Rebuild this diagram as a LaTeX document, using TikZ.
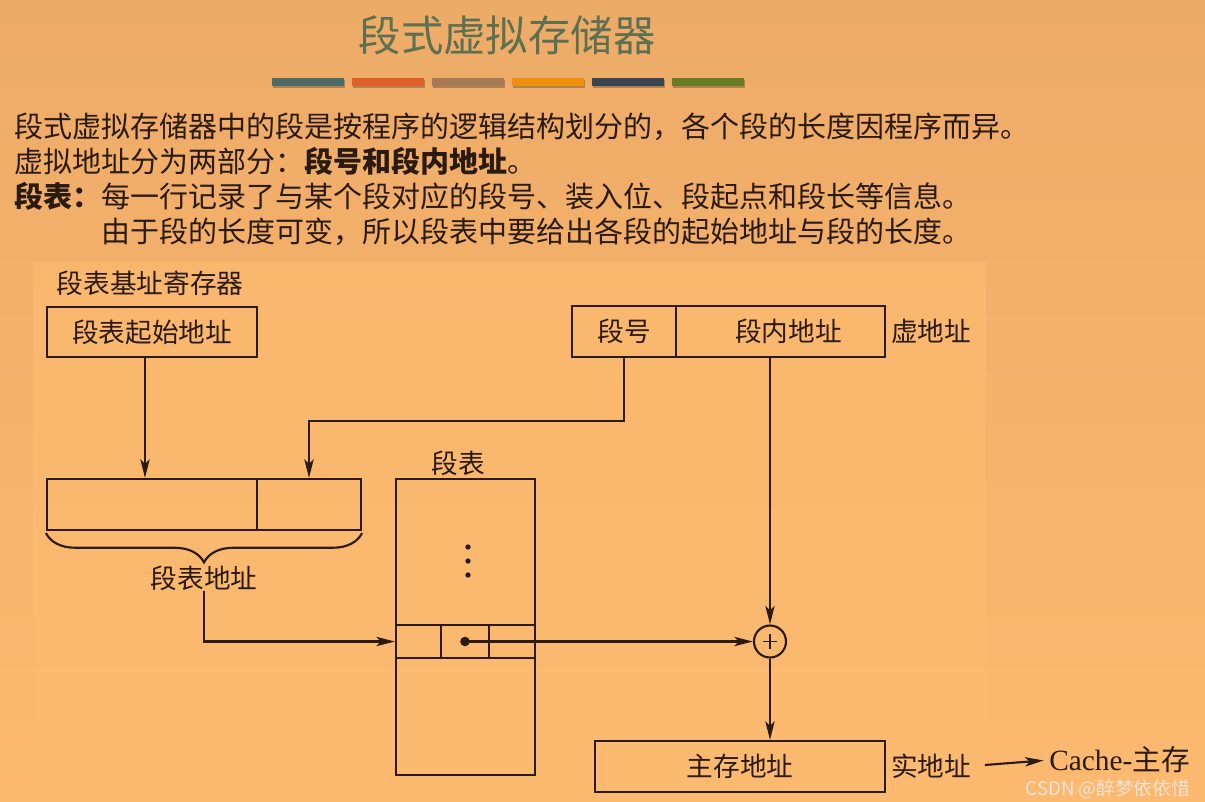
\documentclass[tikz,border=0pt]{standalone}
\usepackage{fontspec}
\setmainfont{Liberation Serif}
\newfontfamily\cjk{Noto Sans CJK SC}
\usetikzlibrary{arrows.meta, positioning, decorations.pathreplacing}
\definecolor{bgtop}{HTML}{EDAB68}
\definecolor{bgbot}{HTML}{FCB96F}
\definecolor{panel}{HTML}{FDBB71}
\definecolor{ink}{HTML}{2A1A10}
\definecolor{titlecol}{HTML}{5D7052}
\definecolor{barA}{HTML}{4F6B66}
\definecolor{barB}{HTML}{E0602A}
\definecolor{barC}{HTML}{A57A55}
\definecolor{barD}{HTML}{F0900F}
\definecolor{barE}{HTML}{3C4650}
\definecolor{barF}{HTML}{6B7A25}
\definecolor{mark}{HTML}{EFE4D8}

\begin{document}
\begin{tikzpicture}[x=0.75pt, y=-0.75pt,
  every node/.style={font=\cjk\fontsize{20}{24}\selectfont, text=ink, inner sep=0pt},
  body/.style={anchor=west, font=\cjk\fontsize{21.75}{26}\selectfont},
  cell/.style={draw=ink, line width=1.6pt},
  wire/.style={draw=ink, line width=1.6pt},
  arrow/.style={wire, -{Stealth[length=14pt,width=7pt,inset=3.5pt]}}
]
  % Background
  \fill[top color=bgtop, bottom color=bgbot] (0,0) rectangle (1205,801);
  \fill[panel, opacity=0.7] (33,262) rectangle (986,801);
  \useasboundingbox (0,0) rectangle (1205,801);

  % Title and colour bars
  \node[font=\cjk\fontsize{31.8}{36}\selectfont, text=titlecol] (title) at (507,35) {段式虚拟存储器};
  \foreach \c [count=\i] in {barA,barB,barC,barD,barE,barF} {
    \fill[black, opacity=0.25] (272+80*\i-80+1,80) rectangle (272+80*\i-80+73,88);
    \fill[\c] (272+80*\i-80,78) rectangle (272+80*\i-80+72,86);
  }

  % Text
  \node[body] (line1) at (14,127) {段式虚拟存储器中的段是按程序的逻辑结构划分的，各个段的长度因程序而异。};
  \node[body] (line2) at (14,161) {虚拟地址分为两部分：\textbf{段号和段内地址}。};
  \node[body] (line3) at (14,196) {\textbf{段表：}每一行记录了与某个段对应的段号、装入位、段起点和段长等信息。};
  \node[body] (line4) at (101,232) {由于段的长度可变，所以段表中要给出各段的起始地址与段的长度。};

  % Registers
  \node (regname) at (150,283) {段表基址寄存器};
  \node[cell, minimum width=157.5pt, minimum height=37.5pt] (base) at (152,332) {段表起始地址};
  \node[cell, minimum width=78pt, minimum height=38.25pt] (segno) at (624,331.5) {段号};
  \node[cell, minimum width=156.75pt, minimum height=38.25pt] (offset) at (780.5,331.5) {\hspace{12pt}段内地址};
  \node[anchor=west] (vlabel) at (891,331) {虚地址};

  % Segment table address
  \node[cell, minimum width=157.5pt, minimum height=38.25pt] (hi) at (152,504.5) {};
  \node[cell, minimum width=78pt, minimum height=38.25pt] (lo) at (309,504.5) {};
  \draw[wire, decorate, decoration={brace, mirror, amplitude=22pt}]
    ([yshift=-1.5pt]hi.south west) -- ([yshift=-1.5pt]lo.south east);
  \node (addr) at (204,578) {段表地址};

  % Segment table
  \node (tlabel) at (458,463) {段表};
  \node[cell, minimum width=104.25pt, minimum height=222pt] (segtab) at (465.5,627) {};
  \node[cell, minimum width=33.75pt, minimum height=24.75pt] (rowa) at (418.5,641.5) {};
  \node[cell, minimum width=36pt, minimum height=24.75pt] (rowb) at (465,641.5) {};
  \node[cell, minimum width=34.5pt, minimum height=24.75pt] (rowc) at (512,641.5) {};
  \foreach \y in {547,561,575} \fill[ink] (468,\y) circle (2pt);
  \coordinate (dot) at (rowb.center);
  \fill[ink] (dot) circle (3.6pt);

  % Adder and real address
  \node[cell, circle, minimum size=24pt] (adder) at (770,641.5) {};
  \draw[ink, line width=0.8pt] ([xshift=-5.5pt]adder.center) -- ([xshift=5.5pt]adder.center)
    ([yshift=-5.5pt]adder.center) -- ([yshift=5.5pt]adder.center);
  \node[cell, minimum width=217.5pt, minimum height=38.25pt] (pa) at (740,766.5) {主存地址};
  \node[anchor=west] (rlabel) at (891,766) {实地址};
  \node[anchor=west, font=\fontsize{22}{26}\selectfont] (cache) at (1049,760)
    {Cache-{\cjk\fontsize{21.5}{26}\selectfont 主存}};
  \node[anchor=east, font=\cjk\fontsize{14}{17}\selectfont, text=mark] (wm) at (1190,789) {CSDN @醉梦依依惜};

  % Arrows
  \draw[arrow] (base.south -| 145,0) -- (hi.north -| 145,0);
  \draw[arrow] (segno.south) -- ++(0,63) -| (lo.north);
  \draw[arrow] (addr.south) |- (rowa.west);
  \draw[arrow] (dot) -- (adder.west);
  \draw[arrow] (offset.south -| adder) -- (adder.north);
  \draw[arrow] (adder.south) -- (pa.north -| adder);
  \draw[arrow, shorten <=10pt, shorten >=4pt] (rlabel.east) -- (cache.west);
\end{tikzpicture}
\end{document}
